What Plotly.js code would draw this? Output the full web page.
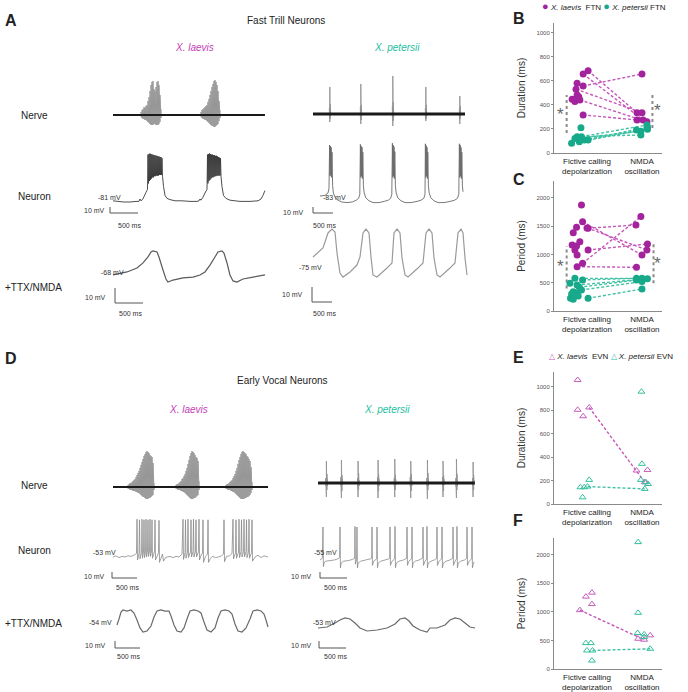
<!DOCTYPE html>
<html><head><meta charset="utf-8">
<script src="https://cdn.plot.ly/plotly-3.0.1.min.js"></script>
<style>html,body{margin:0;padding:0;background:#fff;}#chart{width:688px;height:692px;}</style>
</head><body><div id="chart"></div>
<script>
// ================= DATA =================
const CATS = ['Fictive calling<br>depolarization', 'NMDA<br>oscillation'];
const SCALE_MS = [0, 0, 500];
const SCALE_MV = [10, 0, 0];
const NERVE_BASE = [0, 0];

// ---- A: Fast trill neurons, X. laevis ----
const aLvNerveSpan = [0, 2714];
const aLvNerveT = [
  [500,518,536,554,571,589,607,625,643,661,679,696,714,732,750,768,786,804,821,839,857],
  [1571,1589,1607,1625,1643,1661,1679,1696,1714,1732,1750,1768,1786,1804,1821,1839,1857,1875,1893,1911]];
const aLvNerveTop = [
  [3,5,6,8,7,9,10,14,18,24,30,33,34,26,24,28,33,34,30,20,6],
  [3,5,6,7,8,9,10,13,16,20,24,28,31,34,35,33,30,24,14,5]];
const aLvNerveBot = [
  [-2,-3,-4,-4,-5,-5,-6,-7,-8,-9,-10,-10,-10,-9,-9,-10,-10,-10,-9,-7,-3],
  [-2,-3,-4,-4,-5,-5,-6,-7,-8,-9,-10,-11,-11,-12,-12,-11,-10,-9,-6,-3]];
const aLvNeuronT = [0,89,196,304,411,464,482,500,527,554,589,616,
  625,634,643,652,661,670,679,688,696,705,714,723,732,741,750,759,768,777,786,795,804,813,821,830,839,848,857,866,875,884,
  902,929,964,1018,1107,1232,1375,1500,1536,1554,1571,1607,1643,1679,
  1688,1696,1705,1714,1723,1732,1741,1750,1759,1768,1777,1786,1795,1804,1813,1821,1830,1839,1848,1857,1866,1875,1884,1893,1902,1911,1920,1929,
  1946,1973,2018,2089,2268,2446,2589,2643,2679,2696,2714];
const aLvNeuronMv = [-79,-80,-81,-81,-80,-80,-76,-79,-77,-72,-65,-60,
  -2,-50,-1,-46,0,-44,-1,-42,-2,-40,-2,-40,-3,-38,-3,-38,-4,-37,-4,-37,-5,-37,-5,-36,-6,-36,-6,-36,-8,-38,
  -55,-70,-75,-77,-79,-79,-80,-80,-79,-76,-78,-73,-66,-60,
  -2,-50,-1,-46,0,-44,-1,-42,-2,-40,-2,-40,-3,-39,-3,-38,-4,-38,-4,-37,-5,-37,-6,-37,-7,-37,-8,-38,
  -55,-70,-75,-78,-80,-80,-79,-76,-70,-66,-62];
const aLvTtxT = [0,250,429,536,625,679,714,786,821,893,946,982,1071,1250,1429,1554,1643,1732,1821,1875,1946,1982,2036,2089,2143,2214,2321,2500,2714];
const aLvTtxMv = [-69.3,-67.3,-64.7,-61.3,-57.3,-54,-53.3,-54,-57.3,-66,-72,-74,-72.7,-71.3,-70.7,-69.3,-67.3,-62.7,-57.3,-54,-53.3,-54.7,-61.3,-69.3,-73.3,-74,-72,-70.7,-69.3];

// ---- A: Fast trill neurons, X. petersii ----
const aPtNerveSpan = [0, 3800];
const aPtNerveT = [[410,420,430,440],[1185,1195,1205,1215],[1985,1995,2005,2015],[2810,2820,2830,2840],[3660,3670,3680,3690]];
const aPtNerveTop = [[6,27,10,4],[7,30,9,4],[8,38,12,5],[6,27,9,4],[5,18,8,3]];
const aPtNerveBot = [[-3,-8,-5,-2],[-4,-10,-6,-2],[-4,-12,-7,-3],[-3,-7,-5,-2],[-4,-10,-5,-2]];
const aPtNeuronT = [175,300,375,400,415,425,435,445,455,465,475,490,510,550,620,720,850,980,1080,1140,1170,
  1185,1195,1205,1215,1225,1235,1245,1260,1280,1320,1400,1500,1650,1780,1880,1940,1970,
  1985,1995,2005,2015,2025,2035,2045,2060,2080,2120,2200,2300,2450,2600,2700,2770,2800,
  2810,2820,2830,2840,2850,2860,2870,2885,2905,2945,3025,3125,3275,3430,3540,3610,3645,
  3660,3670,3680,3690,3700,3710,3720,3735,3750];
const aPtNeuronMv = [-73,-72,-68,-60,12,-40,10,-38,8,-42,0,-55,-68,-75,-80,-83,-84,-83,-80,-77,-70,
  13,-42,10,-40,8,-44,0,-56,-68,-76,-81,-84,-84,-82,-80,-77,-70,
  15,-42,12,-40,9,-44,1,-56,-68,-76,-81,-84,-84,-82,-80,-77,-70,
  14,-42,11,-40,8,-44,0,-56,-68,-76,-81,-84,-84,-82,-80,-77,-70,
  14,-42,12,-40,8,-44,0,-56,-66];
const aPtTtxT = [0,250,375,475,550,600,675,750,925,1100,1175,1250,1325,1400,1450,1500,1600,1850,1975,2025,2100,2175,2225,2300,2375,2625,2750,2825,2900,2975,3025,3100,3175,3425,3550,3625,3700,3750,3800,3850];
const aPtTtxMv = [-68.3,-62.3,-52.3,-49.7,-51.7,-65.7,-79,-81.7,-78.3,-73.7,-68.3,-52.3,-49.7,-52.3,-68.3,-80.3,-81.7,-75.7,-72.3,-52.3,-49.7,-52.3,-69,-80.3,-81.7,-75.7,-72.3,-52.3,-49.7,-52.3,-69,-80.3,-81.7,-75.7,-72.3,-52.3,-49.7,-52.3,-69,-80.3];

// ---- D: Early vocal neurons, X. laevis ----
const dLvNerveSpan = [0, 3100];
const dLvNerveT = [
  [300,320,340,360,380,400,420,440,460,480,500,520,540,560,580,600,620,640,660,680,700,720,740,760,780,800,820],
  [1260,1280,1300,1320,1340,1360,1380,1400,1420,1440,1460,1480,1500,1520,1540,1560,1580,1600,1620,1640,1660,1680,1700,1720],
  [2260,2280,2300,2320,2340,2360,2380,2400,2420,2440,2460,2480,2500,2520,2540,2560,2580,2600,2620,2640,2660,2680,2700,2720,2740,2760,2780]];
const dLvNerveTop = [
  [2,3,4,4,5,6,7,8,10,12,14,16,19,22,25,28,31,33,35,36,35,34,32,31,30,24,4],
  [2,3,3,4,5,6,8,9,11,13,16,19,23,27,31,34,36,35,34,32,30,29,26,6],
  [2,3,3,4,5,6,7,9,11,13,16,19,23,27,30,33,35,36,35,34,33,31,30,28,26,20,5]];
const dLvNerveBot = [
  [-2,-2,-3,-3,-3,-4,-4,-4,-5,-5,-6,-6,-7,-8,-9,-10,-10,-11,-12,-12,-12,-11,-11,-10,-9,-8,-3],
  [-2,-2,-3,-3,-3,-4,-4,-5,-5,-6,-7,-8,-9,-10,-11,-12,-12,-12,-11,-11,-10,-9,-8,-3],
  [-2,-2,-3,-3,-3,-4,-4,-5,-5,-6,-7,-8,-9,-10,-11,-12,-12,-12,-12,-11,-11,-10,-10,-9,-8,-6,-3]];
const dLvNeuronT = [0,60,120,180,240,300,360,420,470,480,490,520,530,540,570,580,590,610,620,630,650,660,670,690,700,710,730,740,750,770,780,790,830,840,850,910,920,930,960,990,1010,1040,1080,1140,1200,1260,1320,1380,1400,1410,1440,1450,1460,1490,1500,1510,1550,1560,1570,1600,1610,1620,1650,1660,1670,1710,1720,1730,1770,1790,1800,1810,1850,1890,1900,1910,1950,1990,2050,2110,2170,2210,2220,2230,2270,2330,2380,2400,2410,2450,2460,2470,2510,2520,2530,2560,2570,2580,2610,2620,2630,2660,2670,2680,2710,2720,2730,2770,2780,2790,2840,2900,2960,3020,3100];
const dLvNeuronMv = [-53,-51,-54,-52,-53,-51,-52,-50,-47,10,-58,-47,9,-56,-46,10,-55,-45,9,-54,-44,10,-53,-43,9,-52,-43,10,-52,-43,9,-55,-44,9,-58,-46,8,-62,-55,-48,-60,-55,-53,-52,-54,-52,-53,-48,10,-57,-46,9,-55,-45,10,-54,-44,9,-53,-44,10,-53,-43,9,-53,-44,10,-58,-48,-47,9,-62,-52,-48,9,-62,-55,-52,-54,-53,-51,-48,9,-61,-52,-51,-47,10,-56,-46,9,-55,-45,10,-54,-44,9,-53,-44,10,-53,-44,9,-54,-45,10,-55,-46,9,-60,-53,-50,-54,-51,-53];
const dLvTtxT = [80,120,160,200,280,360,420,480,540,600,680,760,820,880,960,1040,1120,1160,1220,1280,1360,1420,1480,1540,1620,1700,1760,1820,1880,1960,2040,2100,2160,2240,2320,2380,2440,2500,2580,2660,2740,2800,2880,2960,3020,3060,3100];
const dLvTtxMv = [-56.9,-48.3,-38.3,-35.4,-36.9,-35.4,-39.7,-49.7,-61.1,-66.9,-65.4,-58.3,-45.4,-36.9,-35.4,-36.9,-36.9,-44,-56.9,-65.4,-66.9,-61.1,-48.3,-36.9,-35.4,-36.9,-39.7,-52.6,-64,-66.9,-61.1,-46.9,-36.9,-35.4,-36.9,-41.1,-55.4,-65.4,-66.9,-61.1,-48.3,-36.9,-35.4,-36.9,-41.1,-49.7,-59.7];

// ---- D: Early vocal neurons, X. petersii ----
const dPtNerveSpan = [0, 2900];
const dPtNerveT = [[145,155,165,175],[423,433,443,453],[731,741,751,761],[1101,1111,1121,1131],[1410,1420,1430,1440],[1706,1716,1726,1736],[2014,2024,2034,2044],[2303,2313,2323,2333],[2551,2561,2571,2581],[2859,2869,2879,2889]];
const dPtNerveTop = [[5,22,9,4],[6,23,8,4],[5,22,10,3],[6,23,9,4],[5,24,8,4],[6,22,9,3],[5,23,10,4],[6,22,8,4],[5,24,9,3],[5,21,8,3]];
const dPtNerveBot = [[-3,-14,-7,-3],[-3,-15,-8,-2],[-4,-14,-7,-3],[-3,-15,-8,-3],[-3,-14,-7,-2],[-4,-15,-8,-3],[-3,-16,-7,-3],[-3,-14,-8,-2],[-4,-15,-7,-3],[-3,-14,-7,-2]];
const dPtNeuronT = [37,80,92,100,112,140,220,300,370,400,407,415,430,470,560,640,678,684,692,715,721,729,745,790,880,970,993,999,1007,1030,1086,1092,1100,1115,1160,1240,1310,1326,1332,1340,1370,1419,1425,1433,1450,1500,1580,1640,1647,1655,1680,1733,1739,1747,1760,1800,1870,1936,1943,1951,1980,2010,2016,2024,2040,2090,2150,2195,2201,2209,2240,2288,2294,2302,2320,2370,2440,2492,2498,2506,2535,2565,2571,2579,2595,2640,2710,2751,2757,2765,2795,2843,2849,2857,2875,2890];
const dPtNeuronMv = [-55,-52,0,-66,-60,-57,-56,-55,-53,-51,0,-68,-60,-57,-56,-54,-52,1,-62,-54,0,-68,-60,-57,-55,-53,-52,0,-64,-57,-53,0,-68,-60,-57,-55,-53,-52,0,-64,-57,-53,1,-68,-60,-57,-55,-52,0,-64,-57,-53,0,-68,-60,-57,-55,-52,0,-64,-57,-53,1,-68,-60,-57,-55,-52,0,-64,-57,-53,0,-68,-60,-57,-55,-52,0,-64,-57,-53,1,-68,-60,-57,-55,-52,0,-64,-57,-53,0,-68,-60,-58];
const dPtTtxT = [0,167,315,407,500,592,685,777,907,1092,1277,1425,1517,1610,1684,1758,1887,2017,2072,2202,2350,2442,2535,2627,2720,2812,2905];
const dPtTtxMv = [-53,-51.6,-45.9,-41.6,-38.7,-40.1,-45.9,-53,-57.3,-55.9,-53,-47.3,-40.1,-38.7,-43,-50.1,-55.9,-58.7,-53,-53,-48.7,-41.6,-38.7,-40.1,-45.9,-51.6,-53];

// ---- B: FTN duration (ms) ----
const bLvFictX = [1.02,0.93,0.82,0.93,0.80,0.82,0.85,0.73,0.78,0.87,0.93];
const bLvFictY = [686,658,581,558,531,483,469,447,428,442,317];
const bLvNmdaX = [2.00,1.91,2.00,1.91,2.02,2.09];
const bLvNmdaY = [658,336,336,275,275,261];
const bLvPairs = [[0,1],[1,4],[3,0],[4,2],[9,5],[10,3]];
const bPtFictX = [0.72,0.82,0.89,0.90,0.95,1.02,0.86,0.78];
const bPtFictY = [81,136,211,136,108,108,94,120];
const bPtNmdaX = [1.90,1.98,2.10,2.09,2.10,1.98];
const bPtNmdaY = [192,150,197,233,215,182];
const bPtPairs = [[3,3],[4,4],[5,2],[6,0],[7,5],[1,1]];
const bSigLeft = [167, 483], bSigRight = [208, 508];

// ---- C: FTN period (ms) ----
const cLvFictX = [0.90,0.92,0.81,0.75,1.02,0.87,0.73,0.81,0.78,0.82,0.92,0.82,1.02,1.00];
const cLvFictY = [1876,1581,1481,1386,1464,1227,1168,1150,1080,991,844,785,1080,1470];
const cLvNmdaX = [1.98,1.89,2.10,2.09,2.00,1.90];
const cLvNmdaY = [1670,1522,1186,1080,991,773];
const cLvPairs = [[4,1],[13,3],[10,0],[12,2],[11,5],[1,4]];
const cPtFictX = [0.78,0.92,0.69,0.82,0.86,0.90,0.75,0.82,0.72,0.84,0.70,0.75,1.02];
const cPtFictY = [578,549,490,460,420,372,342,313,301,265,225,207,225];
const cPtNmdaX = [1.90,2.00,2.10,1.90,2.00,2.00];
const cPtNmdaY = [578,578,570,549,520,389];
const cPtPairs = [[0,1],[1,0],[3,2],[4,3],[5,4],[12,5]];
const cSigLeft = [400, 1150], cSigRight = [490, 1227];

// ---- E: EVN duration (ms) ----
const eLvFictX = [0.83,0.83,0.93,1.04];
const eLvFictY = [1060,805,750,825];
const eLvNmdaX = [1.90,2.10,2.05];
const eLvNmdaY = [286,291,186];
const eLvPairs = [[3,2]];
const ePtFictX = [1.04,0.88,0.95,1.01,0.92];
const ePtFictY = [206,143,143,149,57];
const ePtNmdaX = [1.99,2.00,1.98,2.11,2.07,2.05];
const ePtNmdaY = [960,343,206,171,186,129];
const ePtPairs = [[3,5]];

// ---- F: EVN period (ms) ----
const fLvFictX = [0.87,0.98,1.09,1.09];
const fLvFictY = [1029,1265,1335,1135];
const fLvNmdaX = [1.93,2.04,2.15];
const fLvNmdaY = [529,512,588];
const fLvPairs = [[0,1]];
const fPtFictX = [0.98,1.07,1.00,1.10,1.09];
const fPtFictY = [453,453,324,324,147];
const fPtNmdaX = [1.93,1.93,1.92,2.04,2.15,2.04];
const fPtNmdaY = [2218,982,629,606,353,559];
const fPtPairs = [[3,4]];

// ================= BUILD =================
const W = 688, H = 692;
const FONT = 'Liberation Sans, Arial, Helvetica, sans-serif';
const MAG = '#a3239d', TEAL = '#17a98a', MAG_L = '#c657bb', TEAL_L = '#3fc2a2';
const MAG_T = '#c43db7', TEAL_T = '#22c0a0';
const data = [];
const layout = {width: W, height: H, margin: {l:0, r:0, t:0, b:0}, paper_bgcolor: '#fff', plot_bgcolor: 'rgba(0,0,0,0)',
  showlegend: false, font: {family: FONT, color: '#222'}, annotations: []};
let axN = 0;
const xdom = (a, b) => [a / W, b / W];
const ydom = (top, bottom) => [1 - bottom / H, 1 - top / H];
function newAxes(xd, yd, xr, yr, ex, ey) {
  axN++;
  const xid = axN === 1 ? 'x' : 'x' + axN, yid = axN === 1 ? 'y' : 'y' + axN;
  layout[axN === 1 ? 'xaxis' : 'xaxis' + axN] = Object.assign({domain: xd, range: xr, anchor: yid, visible: false, fixedrange: true, showgrid: false, zeroline: false}, ex || {});
  layout[axN === 1 ? 'yaxis' : 'yaxis' + axN] = Object.assign({domain: yd, range: yr, anchor: xid, visible: false, fixedrange: true, showgrid: false, zeroline: false}, ey || {});
  return {x: xid, y: yid};
}
// box: [left px (t=0), right px, top px, bottom px]; value vRef sits at pixel row pyRef
function tracePanel(box, msPerPx, vRef, pyRef, pxPerUnit) {
  const [l, r, t, b] = box, pad = 3;
  return newAxes(xdom(l - pad, r + pad), ydom(t - pad, b + pad),
    [-pad * msPerPx, (r - l + pad) * msPerPx],
    [vRef - (b + pad - pyRef) / pxPerUnit, vRef + (pyRef - t + pad) / pxPerUnit]);
}
function line(ax, x, y, color, width) {
  data.push({type: 'scatter', mode: 'lines', x, y, xaxis: ax.x, yaxis: ax.y, hoverinfo: 'skip',
    line: {color, width, simplify: false}, connectgaps: false});
}
function zig(gT, gTop, gBot) {
  const x = [], y = [];
  gT.forEach((ts, g) => { ts.forEach((t, i) => { x.push(t, t); y.push(gBot[g][i], gTop[g][i]); }); x.push(null); y.push(null); });
  return {x, y};
}
function nerve(box, msPerPx, pyRef, span, gT, gTop, gBot, baseW) {
  const ax = tracePanel(box, msPerPx, 0, pyRef, 1);
  const z = zig(gT, gTop, gBot);
  line(ax, z.x, z.y, '#939393', 0.9);
  line(ax, span, NERVE_BASE, '#1a1a1a', baseW);
}
function scaleBar(cx, cy, msPerPx, pxPerUnit) {
  const len = 500 / msPerPx, vlen = 10 * pxPerUnit, pad = 2;
  const ax = newAxes(xdom(cx - pad, cx + len + pad), ydom(cy - vlen - pad, cy + pad),
    [-pad * msPerPx, (len + pad) * msPerPx], [-pad / pxPerUnit, (vlen + pad) / pxPerUnit]);
  line(ax, SCALE_MS, SCALE_MV, '#555', 1);
}
function note(px, py, text, size, opt) {
  layout.annotations.push(Object.assign({xref: 'paper', yref: 'paper', x: px / W, y: 1 - py / H, text, showarrow: false,
    xanchor: 'center', yanchor: 'middle', font: {size, color: '#222', family: FONT}}, opt || {}));
}

// ---- A traces ----
nerve([113, 265, 78, 128], 17.86, 115, aLvNerveSpan, aLvNerveT, aLvNerveTop, aLvNerveBot, 2);
line(tracePanel([113, 265, 150, 206], 17.86, -81, 202, 0.6), aLvNeuronT, aLvNeuronMv, '#3a3a3a', 0.9);
line(tracePanel([113, 265, 246, 287], 17.86, -68, 273, 1.5), aLvTtxT, aLvTtxMv, '#5a5a5a', 1.2);
scaleBar(110, 213, 17.86, 0.6);
scaleBar(115, 303, 17.86, 1.5);
nerve([313, 465, 74, 130], 25, 114, aPtNerveSpan, aPtNerveT, aPtNerveTop, aPtNerveBot, 3.2);
line(tracePanel([313, 465, 140, 206], 25, -83, 202, 0.6), aPtNeuronT, aPtNeuronMv, '#6a6a6a', 0.9);
line(tracePanel([313, 467, 226, 280], 25, -75, 267, 1.5), aPtTtxT, aPtTtxMv, '#9a9a9a', 1.2);
scaleBar(313, 213, 25, 0.6);
scaleBar(312, 302, 25, 1.5);

// ---- D traces ----
nerve([113, 268, 448, 502], 20, 487, dLvNerveSpan, dLvNerveT, dLvNerveTop, dLvNerveBot, 1.8);
line(tracePanel([113, 268, 516, 566], 20, -53, 557, 0.6), dLvNeuronT, dLvNeuronMv, '#8a8a8a', 0.8);
line(tracePanel([113, 268, 606, 636], 20, -54, 623, 0.7), dLvTtxT, dLvTtxMv, '#6a6a6a', 1.2);
scaleBar(112, 578, 20, 0.6);
scaleBar(115, 648, 20, 0.7);
nerve([318, 475, 458, 500], 18.5, 483, dPtNerveSpan, dPtNerveT, dPtNerveTop, dPtNerveBot, 3);
line(tracePanel([318, 475, 524, 572], 18.5, -55, 560, 0.6), dPtNeuronT, dPtNeuronMv, '#8a8a8a', 0.8);
line(tracePanel([318, 476, 614, 636], 18.5, -53, 628, 0.7), dPtTtxT, dPtTtxMv, '#6a6a6a', 1.2);
scaleBar(320, 578, 18.5, 0.6);
scaleBar(319, 648, 18.5, 0.7);

// ---- scatter panels ----
function scatterPanel(box, yr, dtick, ytitle) {
  const [l, r, t, b] = box;
  return newAxes(xdom(l, r), ydom(t, b), [0.4, 2.364], yr,
    {visible: true, showline: true, linecolor: '#8a8a8a', linewidth: 1, ticks: '', tickvals: [1, 2], ticktext: CATS,
     tickfont: {size: 8, color: '#222', family: FONT}},
    {visible: true, showline: true, linecolor: '#8a8a8a', linewidth: 1, ticks: 'outside', ticklen: 2, tickcolor: '#8a8a8a',
     tick0: 0, dtick, tickfont: {size: 6, color: '#555', family: FONT},
     title: {text: ytitle, font: {size: 10, color: '#333', family: FONT}, standoff: 8}});
}
function pairLines(ax, fx, fy, nx, ny, pairs, color) {
  const x = [], y = [];
  pairs.forEach(([i, j]) => { x.push(fx[i], nx[j], null); y.push(fy[i], ny[j], null); });
  data.push({type: 'scatter', mode: 'lines', x, y, xaxis: ax.x, yaxis: ax.y, hoverinfo: 'skip',
    line: {color, width: 1.4, dash: '3px,2px'}});
}
function pts(ax, x, y, color, symbol, size) {
  const open = symbol.indexOf('open') >= 0;
  data.push({type: 'scatter', mode: 'markers', x, y, xaxis: ax.x, yaxis: ax.y, cliponaxis: false,
    marker: {symbol, size, color, line: {color, width: open ? 1 : 0}}});
}
function sig(ax, xpos, span, starX, starY) {
  data.push({type: 'scatter', mode: 'lines', x: [xpos, xpos], y: span, xaxis: ax.x, yaxis: ax.y, hoverinfo: 'skip',
    line: {color: '#8a8a8a', width: 2, dash: 'dot'}});
  layout.annotations.push({xref: ax.x, yref: ax.y, x: starX, y: starY, text: '*', showarrow: false,
    font: {size: 17, color: '#666', family: FONT}});
}

const axB = scatterPanel([554, 662, 23, 153], [0, 1083], 200, 'Duration (ms)');
pairLines(axB, bLvFictX, bLvFictY, bLvNmdaX, bLvNmdaY, bLvPairs, MAG_L);
pairLines(axB, bPtFictX, bPtFictY, bPtNmdaX, bPtNmdaY, bPtPairs, TEAL_L);
sig(axB, 0.63, bSigLeft, 0.51, 318);
sig(axB, 2.19, bSigRight, 2.29, 350);
pts(axB, bLvFictX, bLvFictY, MAG, 'circle', 7); pts(axB, bLvNmdaX, bLvNmdaY, MAG, 'circle', 7);
pts(axB, bPtFictX, bPtFictY, TEAL, 'circle', 7); pts(axB, bPtNmdaX, bPtNmdaY, TEAL, 'circle', 7);

const axC = scatterPanel([554, 662, 181, 311], [0, 2300], 500, 'Period (ms)');
pairLines(axC, cLvFictX, cLvFictY, cLvNmdaX, cLvNmdaY, cLvPairs, MAG_L);
pairLines(axC, cPtFictX, cPtFictY, cPtNmdaX, cPtNmdaY, cPtPairs, TEAL_L);
sig(axC, 0.63, cSigLeft, 0.51, 780);
sig(axC, 2.21, cSigRight, 2.29, 840);
pts(axC, cLvFictX, cLvFictY, MAG, 'circle', 7); pts(axC, cLvNmdaX, cLvNmdaY, MAG, 'circle', 7);
pts(axC, cPtFictX, cPtFictY, TEAL, 'circle', 7); pts(axC, cPtNmdaX, cPtNmdaY, TEAL, 'circle', 7);

const axE = scatterPanel([554, 662, 372, 504], [0, 1128], 200, 'Duration (ms)');
pairLines(axE, eLvFictX, eLvFictY, eLvNmdaX, eLvNmdaY, eLvPairs, MAG_L);
pairLines(axE, ePtFictX, ePtFictY, ePtNmdaX, ePtNmdaY, ePtPairs, TEAL_L);
pts(axE, eLvFictX, eLvFictY, '#c65dbd', 'triangle-up-open', 6); pts(axE, eLvNmdaX, eLvNmdaY, '#c65dbd', 'triangle-up-open', 6);
pts(axE, ePtFictX, ePtFictY, '#35c09f', 'triangle-up-open', 6); pts(axE, ePtNmdaX, ePtNmdaY, '#35c09f', 'triangle-up-open', 6);

const axF = scatterPanel([554, 662, 538, 669], [0, 2290], 500, 'Period (ms)');
pairLines(axF, fLvFictX, fLvFictY, fLvNmdaX, fLvNmdaY, fLvPairs, MAG_L);
pairLines(axF, fPtFictX, fPtFictY, fPtNmdaX, fPtNmdaY, fPtPairs, TEAL_L);
pts(axF, fLvFictX, fLvFictY, '#c65dbd', 'triangle-up-open', 6); pts(axF, fLvNmdaX, fLvNmdaY, '#c65dbd', 'triangle-up-open', 6);
pts(axF, fPtFictX, fPtFictY, '#35c09f', 'triangle-up-open', 6); pts(axF, fPtNmdaX, fPtNmdaY, '#35c09f', 'triangle-up-open', 6);

// ---- text ----
const bold = s => '<b>' + s + '</b>';
note(3, 20, bold('A'), 16, {xanchor: 'left'});
note(3, 358, bold('D'), 16, {xanchor: 'left'});
note(511, 18, bold('B'), 16, {xanchor: 'left'});
note(511, 180, bold('C'), 16, {xanchor: 'left'});
note(511, 357, bold('E'), 16, {xanchor: 'left'});
note(511, 520, bold('F'), 16, {xanchor: 'left'});
note(286, 20, 'Fast Trill Neurons', 10);
note(282, 380, 'Early Vocal Neurons', 10);
note(194, 47, '<i>X. laevis</i>', 10, {font: {size: 10, color: MAG_T, family: FONT}});
note(397, 47, '<i>X. petersii</i>', 10, {font: {size: 10, color: TEAL_T, family: FONT}});
note(188, 410, '<i>X. laevis</i>', 10, {font: {size: 10, color: MAG_T, family: FONT}});
note(387, 410, '<i>X. petersii</i>', 10, {font: {size: 10, color: TEAL_T, family: FONT}});
[[115, 'Nerve'], [196, 'Neuron'], [287, '+TTX/NMDA'], [485, 'Nerve'], [550, 'Neuron'], [623, '+TTX/NMDA']].forEach(([y, s]) =>
  note(s[0] === '+' ? 33 : 34, y, s, 10));
const small = (x, y, s, anchor) => note(x, y, s, 7, {xanchor: anchor || 'left', font: {size: 7, color: '#333', family: FONT}});
small(96, 197, '-81 mV'); small(107, 211, '10 mV', 'right'); small(129, 226, '500 ms', 'center');
small(99, 272, '-68 mV'); small(108, 297, '10 mV', 'right'); small(130, 313, '500 ms', 'center');
small(321, 197, '-83 mV'); small(306, 212, '10 mV', 'right'); small(324, 225, '500 ms', 'center');
small(297, 267, '-75 mV'); small(305, 295, '10 mV', 'right'); small(324, 313, '500 ms', 'center');
small(91, 552, '-53 mV'); small(107, 576, '10 mV', 'right'); small(127, 587, '500 ms', 'center');
small(87, 622, '-54 mV'); small(108, 645, '10 mV', 'right'); small(128, 656, '500 ms', 'center');
small(312, 552, '-55 mV'); small(314, 576, '10 mV', 'right'); small(335, 587, '500 ms', 'center');
small(311, 622, '-53 mV'); small(314, 645, '10 mV', 'right'); small(335, 656, '500 ms', 'center');
note(540, 6, '<span style="color:' + MAG + ';font-size:11px">●</span> <i>X. laevis</i>  FTN <span style="color:' + TEAL + ';font-size:11px">●</span> <i>X. petersii</i> FTN', 8, {xanchor: 'left'});
note(547, 356, '<span style="color:#c65dbd">△</span> <i>X. laevis</i>  EVN <span style="color:#35c09f">△</span> <i>X. petersii</i> EVN', 8, {xanchor: 'left'});

Plotly.newPlot('chart', data, layout, {staticPlot: true, displayModeBar: false});
</script>
</body></html>
